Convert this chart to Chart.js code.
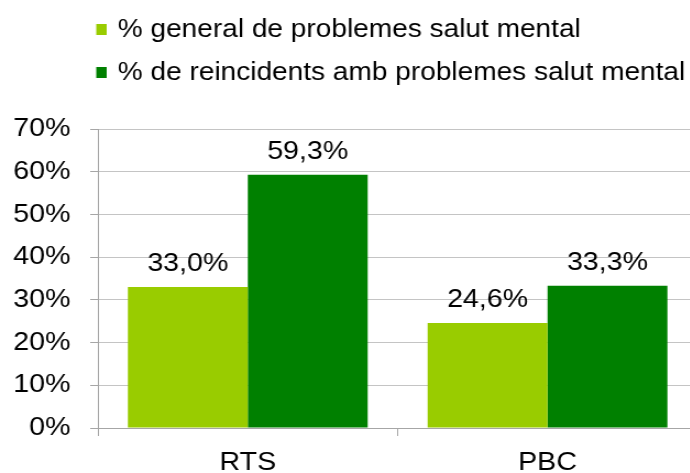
<!DOCTYPE html>
<html>
<head>
<meta charset="utf-8">
<script src="https://cdn.jsdelivr.net/npm/chart.js@4/dist/chart.umd.min.js"></script>
<style>
  html, body { margin: 0; padding: 0; background: #fff; overflow: hidden; }
  /* the chart is laid out narrow and widened, which gives the wide lettering */
  .wrap { transform: scaleX(1.1); transform-origin: 0 0; }
  #chart { display: block; }
</style>
</head>
<body>
<div class="wrap">
<canvas id="chart" width="636" height="473"></canvas>
</div>
<script>
const categories = ['RTS', 'PBC'];
const seriesNames = ['% general de problemes salut mental', '% de reincidents amb problemes salut mental'];
const generalValues = [33.0, 24.6];
const reincidentValues = [59.3, 33.3];
const yTicks = [0, 10, 20, 30, 40, 50, 60, 70];

const FONT = '"Liberation Sans", Arial, sans-serif';
const gridColor = '#c4c4c4';
const axisColor = '#a6a6a6';

const formatPct = (value) => value.toFixed(1).replace('.', ',') + '%';

// stacked legend rows above the plot, square marker + label
const stackedLegend = {
	id: 'stackedLegend',
	afterDraw(chart) {
		const { ctx } = chart;
		const rows = [29, 72];

		ctx.save();
		ctx.font = `25.5px ${FONT}`;
		ctx.textBaseline = 'middle';

		chart.data.datasets.forEach((dataset, i) => {
			const y = rows[i];
			ctx.fillStyle = dataset.backgroundColor;
			ctx.fillRect(87.5, y - 5, 9.5, 11);
			ctx.fillStyle = '#000';
			ctx.fillText(dataset.label, 107, y + 1);
		});

		ctx.restore();
	},
};

// value labels over each bar
const barValues = {
	id: 'barValues',
	afterDatasetsDraw(chart) {
		const { ctx } = chart;

		ctx.save();
		ctx.font = `26px ${FONT}`;
		ctx.textAlign = 'center';
		ctx.textBaseline = 'alphabetic';
		ctx.fillStyle = '#000';

		chart.data.datasets.forEach((dataset, i) => {
			chart.getDatasetMeta(i).data.forEach((bar, j) => {
				ctx.fillText(formatPct(dataset.data[j]), bar.x, bar.y - 16);
			});
		});

		ctx.restore();
	},
};

new Chart(document.getElementById('chart'), {
	type: 'bar',
	data: {
		labels: categories,
		datasets: [
			{
				label: seriesNames[0],
				data: generalValues,
				backgroundColor: '#99cc00',
				borderWidth: 0,
			},
			{
				label: seriesNames[1],
				data: reincidentValues,
				backgroundColor: '#008000',
				borderWidth: 0,
			},
		],
	},
	options: {
		responsive: false,
		animation: false,
		events: [],
		layout: {
			padding: { top: 129, right: 2, left: 0, bottom: 0 },
		},
		datasets: {
			bar: {
				categoryPercentage: 0.8,
				barPercentage: 1.0,
			},
		},
		plugins: {
			legend: { display: false },
			tooltip: { enabled: false },
		},
		scales: {
			x: {
				afterFit: (scale) => { scale.height = 45; },
				grid: {
					offset: true,
					drawOnChartArea: false,
					drawTicks: true,
					tickLength: 8,
					color: axisColor,
				},
				border: { color: axisColor },
				ticks: {
					color: '#000',
					padding: 11,
					font: { family: FONT, size: 26 },
				},
			},
			y: {
				min: 0,
				max: 70,
				afterFit: (scale) => { scale.width = 89; },
				afterBuildTicks: (scale) => {
					scale.ticks = yTicks.map((value) => ({ value }));
				},
				grid: {
					color: gridColor,
					tickLength: 7,
					tickColor: axisColor,
				},
				border: { color: axisColor },
				ticks: {
					color: '#000',
					padding: 18,
					font: { family: FONT, size: 26 },
					callback: (value) => value + '%',
				},
			},
		},
	},
	plugins: [stackedLegend, barValues],
});
</script>
</body>
</html>
